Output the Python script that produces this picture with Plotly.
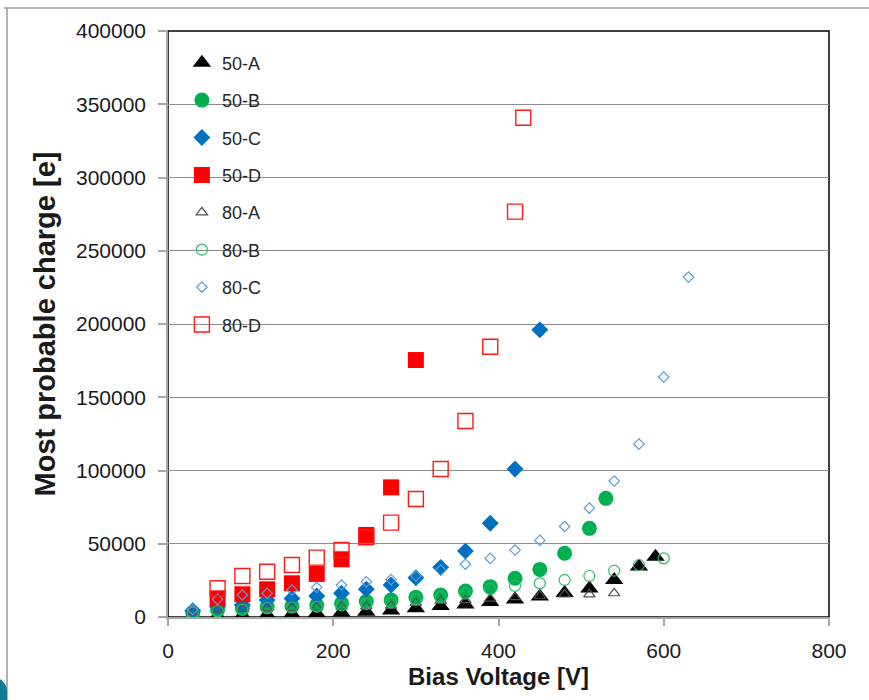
import plotly.graph_objects as go

# ---- data ----
v50A = [60, 90, 120, 150, 180, 210, 240, 270, 300, 330, 360, 390, 420, 450, 480, 510, 540, 570, 590]
q50A = [800, 1200, 1600, 2000, 2500, 3000, 3500, 4500, 6000, 7500, 8500, 10200, 12000, 14000, 16300, 19500, 25200, 34500, 41200]

v50B = [30, 60, 90, 120, 150, 180, 210, 240, 270, 300, 330, 360, 390, 420, 450, 480, 510, 530]
q50B = [2800, 4800, 5900, 7000, 7500, 8200, 9300, 10500, 11600, 13400, 15000, 17700, 20700, 26400, 32500, 43500, 60500, 81000]

v50C = [30, 60, 90, 120, 150, 180, 210, 240, 270, 300, 330, 360, 390, 420, 450]
q50C = [4300, 7000, 8200, 11600, 12700, 14300, 16200, 18900, 21800, 26800, 33900, 45000, 64000, 101000, 196000]

v50D = [60, 90, 120, 150, 180, 210, 240, 270, 300]
q50D = [12700, 15500, 18900, 23000, 29400, 39400, 56000, 88500, 175400]

v80A = [30, 60, 90, 120, 150, 180, 210, 240, 270, 300, 330, 360, 390, 420, 450, 480, 510, 540]
q80A = [3500, 5000, 5500, 6000, 6200, 6500, 7000, 7200, 7600, 9600, 11000, 11500, 12500, 13500, 14500, 15500, 15500, 16200]

v80B = [30, 60, 90, 120, 150, 180, 210, 240, 270, 300, 330, 360, 390, 420, 450, 480, 510, 540, 570, 600]
q80B = [3000, 4000, 5000, 6000, 6500, 7000, 8000, 9000, 10000, 12000, 13500, 16000, 19000, 21200, 23000, 25300, 28000, 31600, 35500, 40000]

v80C = [30, 60, 90, 120, 150, 180, 210, 240, 270, 300, 330, 360, 390, 420, 450, 480, 510, 540, 570, 600, 630]
q80C = [5000, 12000, 15000, 16200, 18400, 20200, 21800, 24000, 25500, 28000, 32000, 36000, 40000, 45700, 52300, 61800, 74300, 92800, 118000, 163800, 232000]

v80D = [60, 90, 120, 150, 180, 210, 240, 270, 300, 330, 360, 390, 420, 430]
q80D = [19600, 28000, 30900, 35500, 40500, 45700, 54400, 64400, 80500, 101000, 133800, 184500, 276700, 340800]

x_ticks = [0, 200, 400, 600, 800]
y_ticks = [0, 50000, 100000, 150000, 200000, 250000, 300000, 350000, 400000]

series = [
    ("50-A", v50A, q50A, dict(symbol="triangle-up", size=16, color="#000000", line=dict(width=0))),
    ("50-B", v50B, q50B, dict(symbol="circle", size=15, color="#00B050", line=dict(width=0))),
    ("50-C", v50C, q50C, dict(symbol="diamond", size=13, color="#0070C0", line=dict(width=0))),
    ("50-D", v50D, q50D, dict(symbol="square", size=16, color="#FF0000", line=dict(width=0))),
    ("80-A", v80A, q80A, dict(symbol="triangle-up-open", size=10, color="#505050", line=dict(width=1.2, color="#505050"))),
    ("80-B", v80B, q80B, dict(symbol="circle-open", size=11, color="#2DB868", line=dict(width=1.2, color="#2DB868"))),
    ("80-C", v80C, q80C, dict(symbol="diamond-open", size=8, color="#5B9BD5", line=dict(width=1.2, color="#5B9BD5"))),
    ("80-D", v80D, q80D, dict(symbol="square-open", size=15, color="#FF1A1A", line=dict(width=1.4, color="#FF1A1A"))),
]

fig = go.Figure()
for name, xs, ys, mk in series:
    fig.add_trace(go.Scatter(x=xs, y=ys, mode="markers", name=name, marker=mk,
                             legendgroup=name, showlegend=True))

L, R, T, B = 168, 829, 31, 617
W, H = 869, 700
def px(x):
    return (x - L) / (R - L)
def py(y):
    return (B - y) / (B - T)

shapes = [
    # plot border (black) below grid/axes
    dict(type="rect", xref="paper", yref="paper", x0=0, x1=1, y0=0, y1=1,
         line=dict(color="#000000", width=1.5), layer="below"),
    # slide decoration lines
    dict(type="line", xref="paper", yref="paper", x0=px(4), x1=px(869), y0=py(8), y1=py(8),
         line=dict(color="#9A9A9A", width=1.5)),
    dict(type="line", xref="paper", yref="paper", x0=px(7), x1=px(7), y0=py(8), y1=py(700),
         line=dict(color="#9A9A9A", width=1.5)),
    dict(type="path", xref="paper", yref="paper",
         path=f"M {px(0)},{py(679)} Q {px(6)},{py(683)} {px(7)},{py(690)} L {px(7)},{py(700)} L {px(0)},{py(700)} Z",
         fillcolor="#127A94", line=dict(width=0)),
]

fig.update_layout(
    width=W, height=H,
    margin=dict(l=L, r=W - R, t=T, b=H - B),
    paper_bgcolor="white", plot_bgcolor="white",
    font=dict(family="Liberation Sans, Arial, sans-serif", color="#1a1a1a"),
    showlegend=True,
    legend=dict(x=0.021, y=0.977, xanchor="left", yanchor="top",
                bgcolor="rgba(0,0,0,0)", font=dict(size=18, color="#262626"),
                tracegroupgap=11, itemsizing="trace"),
    shapes=shapes,
    xaxis=dict(range=[0, 800], tickvals=x_ticks, ticktext=[str(t) for t in x_ticks],
               showgrid=False, zeroline=False, showline=True, linecolor="#A6A6A6", linewidth=1.5,
               ticks="outside", ticklen=7, tickcolor="#A6A6A6", tickwidth=1.5,
               tickfont=dict(size=21, color="#1a1a1a"), ticklabelstandoff=7,
               title=dict(text="<b>Bias Voltage [V]</b>", font=dict(size=24, color="#1a1a1a"), standoff=7)),
    yaxis=dict(range=[0, 400000], tickvals=y_ticks, ticktext=[str(t) for t in y_ticks],
               showgrid=True, gridcolor="#8C8C8C", gridwidth=1, zeroline=False,
               showline=True, linecolor="#A6A6A6", linewidth=1.5,
               ticks="outside", ticklen=8, tickcolor="#A6A6A6", tickwidth=1.5,
               tickfont=dict(size=21, color="#1a1a1a"), ticklabelstandoff=8,
               title=dict(text="<b>Most probable charge [e]</b>", font=dict(size=29, color="#1a1a1a"), standoff=12)),
)

fig.write_html("out.html")
